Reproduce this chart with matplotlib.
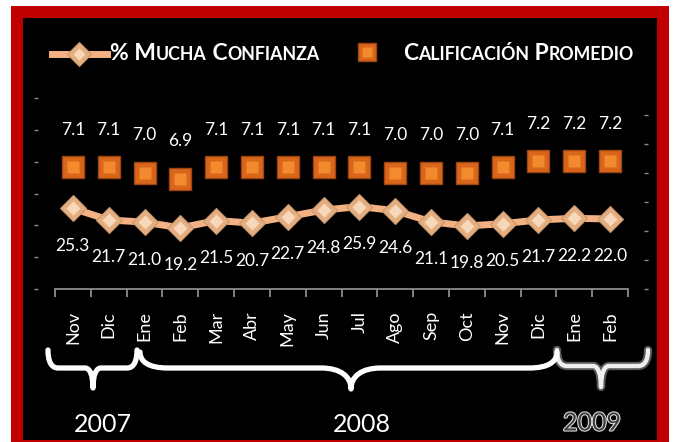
import numpy as np
import matplotlib
matplotlib.use("Agg")
import matplotlib.pyplot as plt
import matplotlib.patheffects as pe
from matplotlib.patches import Rectangle, PathPatch
from matplotlib.path import Path
from matplotlib.lines import Line2D
from matplotlib.offsetbox import TextArea, HPacker, AnchoredOffsetbox

plt.rcParams['font.family'] = ['Lato', 'DejaVu Sans']

# data
months = ["Nov", "Dic", "Ene", "Feb", "Mar", "Abr", "May", "Jun",
          "Jul", "Ago", "Sep", "Oct", "Nov", "Dic", "Ene", "Feb"]
confianza = [25.3, 21.7, 21.0, 19.2, 21.5, 20.7, 22.7, 24.8,
             25.9, 24.6, 21.1, 19.8, 20.5, 21.7, 22.2, 22.0]
calificacion = [7.1, 7.1, 7.0, 6.9, 7.1, 7.1, 7.1, 7.1,
                7.1, 7.0, 7.0, 7.0, 7.1, 7.2, 7.2, 7.2]
years = ["2007", "2008", "2009"]

W, H = 673, 442
fig = plt.figure(figsize=(W / 100, H / 100), dpi=100)
fig.patch.set_facecolor('white')


def fx(px):
    return px / W


def fy(py):
    return 1 - py / H


# red frame + black panel
fig.add_artist(Rectangle((fx(11), 0), fx(669) - fx(11), fy(6), transform=fig.transFigure,
                         facecolor='#C00000', edgecolor='none', zorder=-3))
fig.add_artist(Rectangle((fx(23), fy(440)), fx(657) - fx(23), fy(18) - fy(440),
                         transform=fig.transFigure, facecolor='black', edgecolor='none', zorder=-2))

ax = fig.add_axes([fx(55), fy(289), fx(628) - fx(55), fy(98) - fy(289)])
ax.set_facecolor('none')
ax2 = ax.twinx()

x = np.arange(len(months))
line_col = '#F4B183'
dia_out, dia_in, dia_edge = '#E4AE80', '#F7D8BA', '#C8966A'
sq_out, sq_in, sq_edge = '#DA661B', '#F28A2E', '#9A4512'

# % mucha confianza (left axis)
ax.plot(x, confianza, color=line_col, lw=5, zorder=2)
ax.plot(x, confianza, ls='none', marker='D', ms=13, mfc=dia_out, mec=dia_edge, mew=0.8, zorder=3)
ax.plot(x, confianza, ls='none', marker='D', ms=7, mfc=dia_in, mec='none', zorder=4)
ax.set_ylim(0, 60)
ax.set_yticks(range(0, 61, 10))
ax.set_xlim(-0.5, len(months) - 0.5)
for xi, v in zip(x, confianza):
    ax.annotate(f"{v:.1f}", (xi, v), xytext=(0, -27), textcoords='offset points',
                ha='center', va='center', color='white', fontsize=12.5)

# calificacion promedio (right axis)
ax2.plot(x, calificacion, ls='none', marker='s', ms=16, mfc=sq_out, mec=sq_edge, mew=1, zorder=3)
ax2.plot(x, calificacion, ls='none', marker='s', ms=9, mfc=sq_in, mec='none', zorder=4)
ax2.set_ylim(5, 5 + 191 / 58)
ax2.set_yticks(np.arange(5, 8.01, 0.5))
for xi, v in zip(x, calificacion):
    ax2.annotate(f"{v:.1f}", (xi, v), xytext=(0, 27), textcoords='offset points',
                 ha='center', va='center', color='white', fontsize=12.5)

# axes styling
for a in (ax, ax2):
    for s in a.spines.values():
        s.set_color('none')
ax.spines['bottom'].set_color('#8c8c8c')
ax.spines['bottom'].set_linewidth(1.3)
ax.spines['left'].set_position(('outward', 13.5))
ax2.spines['right'].set_position(('outward', 13))
ax.tick_params(axis='y', length=3, width=1, color='#8a8a8a', direction='inout', labelleft=False)
ax2.tick_params(axis='y', length=3, width=1, color='#8a8a8a', direction='inout', labelright=False)

ax.set_xticks(x)
ax.set_xticklabels(months, rotation=90, color='white', fontsize=13)
ax.tick_params(axis='x', which='major', length=0, pad=16)
ax.set_xticks(np.arange(-0.5, len(months)), minor=True)
ax.tick_params(axis='x', which='minor', length=6, width=1.3, color='#8c8c8c', direction='out')

# legend with small caps text
leg_y = 53
fig.add_artist(Line2D([fx(52), fx(107)], [fy(54)] * 2, transform=fig.transFigure,
                      color=line_col, lw=5))
fig.add_artist(Line2D([fx(79)], [fy(54)], transform=fig.transFigure, ls='none', marker='D',
                      ms=12, mfc=dia_out, mec=dia_edge, mew=0.8))
fig.add_artist(Line2D([fx(79)], [fy(54)], transform=fig.transFigure, ls='none', marker='D',
                      ms=6, mfc=dia_in, mec='none'))
fig.add_artist(Line2D([fx(367)], [fy(52)], transform=fig.transFigure, ls='none', marker='s',
                      ms=13, mfc=sq_out, mec=sq_edge, mew=1))
fig.add_artist(Line2D([fx(367)], [fy(52)], transform=fig.transFigure, ls='none', marker='s',
                      ms=7, mfc=sq_in, mec='none'))


def small_caps(pieces, x0, y0):
    kids = []
    for txt, big in pieces:
        kids.append(TextArea(txt, textprops=dict(color='white', fontweight='bold',
                                                 fontsize=16.5 if big else 12.8)))
    pack = HPacker(children=kids, align='baseline', pad=0, sep=0)
    box = AnchoredOffsetbox(loc='center left', child=pack, pad=0, borderpad=0, frameon=False,
                            bbox_to_anchor=(fx(x0), fy(y0)), bbox_transform=fig.transFigure)
    fig.add_artist(box)


small_caps([("% M", True), ("UCHA", False), (" C", True), ("ONFIANZA", False)], 110, leg_y)
small_caps([("C", True), ("ALIFICACIÓN", False), (" P", True), ("ROMEDIO", False)], 403, leg_y)


# braces under the month labels
def brace(x0, x1, xt, ytop, yh, ytip, re, rt, **kw):
    v = [(x0, ytop),
         (x0, ytop + 0.6 * (yh - ytop)), (x0 + 0.3 * re, yh), (x0 + re, yh),
         (xt - rt, yh),
         (xt - 0.35 * rt, yh), (xt, yh + 0.4 * (ytip - yh)), (xt, ytip),
         (xt, yh + 0.4 * (ytip - yh)), (xt + 0.35 * rt, yh), (xt + rt, yh),
         (x1 - re, yh),
         (x1 - 0.3 * re, yh), (x1, ytop + 0.6 * (yh - ytop)), (x1, ytop)]
    codes = [Path.MOVETO] + [Path.CURVE4] * 3 + [Path.LINETO] + [Path.CURVE4] * 6 + \
            [Path.LINETO] + [Path.CURVE4] * 3
    path = Path([(fx(a), fy(b)) for a, b in v], codes)
    fig.add_artist(PathPatch(path, transform=fig.transFigure, facecolor='none',
                             capstyle='round', joinstyle='round', **kw))


brace(48, 137, 93, 350, 368, 388, 10, 8, edgecolor='white', lw=3.8)
brace(140, 557, 351, 352, 368, 389, 28, 30, edgecolor='white', lw=3.8)
brace(557, 648, 601, 350, 366, 387, 10, 8, edgecolor='white', lw=6, alpha=0.35)
brace(557, 648, 601, 350, 366, 387, 10, 8, edgecolor='white', lw=3.2, alpha=0.9)

fig.text(fx(103), fy(425), years[0], ha='center', va='center', color='white', fontsize=18)
fig.text(fx(362), fy(425), years[1], ha='center', va='center', color='white', fontsize=18)
fig.text(fx(592), fy(423), years[2], ha='center', va='center', color='#3c3c3c', fontsize=18,
         path_effects=[pe.withStroke(linewidth=1.5, foreground='#e6e6e6')])

fig.savefig("out.png", dpi=100)
